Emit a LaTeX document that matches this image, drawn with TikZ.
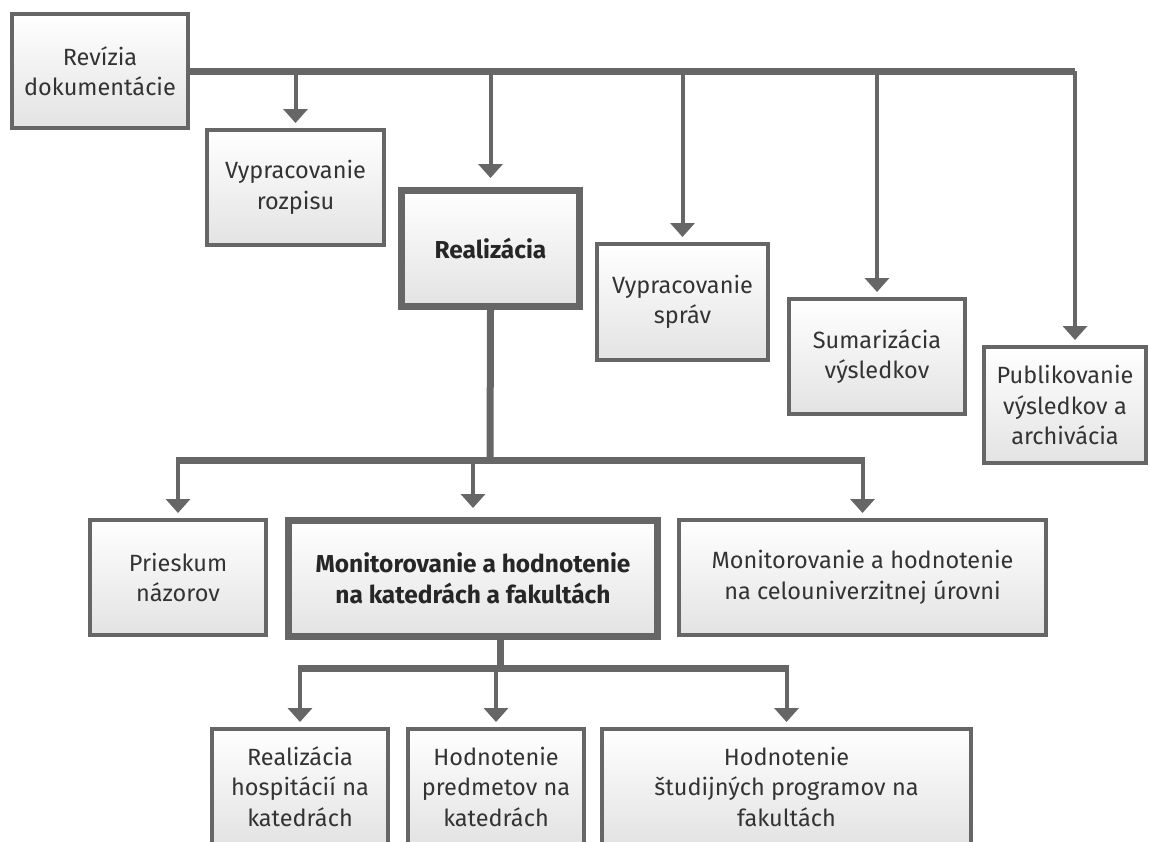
\documentclass[tikz,border=0pt]{standalone}
\usepackage{fontspec}
\setmainfont{Fira Sans}
\usetikzlibrary{arrows.meta}
\definecolor{linegray}{HTML}{666666}
\definecolor{textgray}{HTML}{333333}

\begin{document}
\begin{tikzpicture}[x=1pt,y=-1pt,>={Triangle[width=24pt,length=14pt]}]
\tikzset{
    box/.style={%
        draw=linegray, line width=4pt,
        rectangle,
        top color=white, middle color=white, bottom color=black!11,
        text=textgray, align=center,
        font=\fontsize{23.5}{30.5}\selectfont,
        inner sep=0pt
        },
    mainbox/.style={%
        box, line width=7pt,
        text=black!85,
        font=\fontsize{24.5}{31}\selectfont\bfseries
        },
    bus/.style={draw=linegray, line width=7pt},
    arr/.style={draw=linegray, line width=4pt, ->, shorten >=5pt},
    arrm/.style={arr, shorten >=9pt},
}
\clip (0,0) rectangle (1150,841);
\fill[white] (0,0) rectangle (1150,841);
%%%TOP ROW
\node[box, minimum width=176pt, minimum height=114pt] (rev) at (100,71) {Revízia\\dokumentácie};
\node[box, minimum width=177pt, minimum height=115pt] (roz) at (295.5,187.5) {Vypracovanie\\rozpisu};
\node[mainbox, minimum width=178pt, minimum height=116pt] (real) at (490.5,248.5) {Realizácia};
\node[box, minimum width=171pt, minimum height=116pt] (spr) at (682.5,302) {Vypracovanie\\správ};
\node[box, minimum width=176pt, minimum height=115pt] (sum) at (877,356.5) {Sumarizácia\\výsledkov};
\node[box, minimum width=162pt, minimum height=116pt] (pub) at (1065,405) {Publikovanie\\výsledkov a\\archivácia};
%%%MIDDLE ROW
\node[box, minimum width=176pt, minimum height=115pt] (pri) at (178,577.5) {Prieskum\\názorov};
\node[mainbox, minimum width=369pt, minimum height=116pt] (mon) at (473,578.5) {Monitorovanie a hodnotenie\\na katedrách a fakultách};
\node[box, minimum width=367pt, minimum height=115pt] (cel) at (862.5,577.5) {Monitorovanie a hodnotenie\\na celouniverzitnej úrovni};
%%%BOTTOM ROW
\node[box, minimum width=176pt, minimum height=115pt] (hos) at (300,786.5) {Realizácia\\hospitácií na\\katedrách};
\node[box, minimum width=176pt, minimum height=115pt] (pre) at (496,786.5) {Hodnotenie\\predmetov na\\katedrách};
\node[box, minimum width=369pt, minimum height=115pt] (stu) at (786.5,786.5) {Hodnotenie\\študijných programov na\\fakultách};
%%%CONNECTORS
\coordinate (pubin) at ([xshift=10pt]pub.north);
\draw[bus] (rev.east) -- (rev.east -| pubin);
\draw[arr] (roz.north |- rev.east) -- (roz.north);
\draw[arrm] (real.north |- rev.east) -- (real.north);
\draw[arr] (spr.north |- rev.east) -- (spr.north);
\draw[arr] (sum.north |- rev.east) -- (sum.north);
\draw[arr] (pubin |- rev.east) -- (pubin);
\coordinate (lvl2) at (490,460);
\draw[bus] (real.south) -- (lvl2);
\draw[bus] ([xshift=-2pt]pri.north |- lvl2) -- ([xshift=2pt]cel.north |- lvl2);
\draw[arr] (pri.north |- lvl2) -- (pri.north);
\draw[arrm] (mon.north |- lvl2) -- (mon.north);
\draw[arr] (cel.north |- lvl2) -- (cel.north);
\coordinate (lvl3) at (500,668);
\draw[bus] (lvl3 |- mon.south) -- (lvl3);
\draw[bus] ([xshift=-2pt]hos.north |- lvl3) -- ([xshift=2pt]stu.north |- lvl3);
\draw[arr] (hos.north |- lvl3) -- (hos.north);
\draw[arr] (pre.north |- lvl3) -- (pre.north);
\draw[arr] (stu.north |- lvl3) -- (stu.north);
\end{tikzpicture}
\end{document}
